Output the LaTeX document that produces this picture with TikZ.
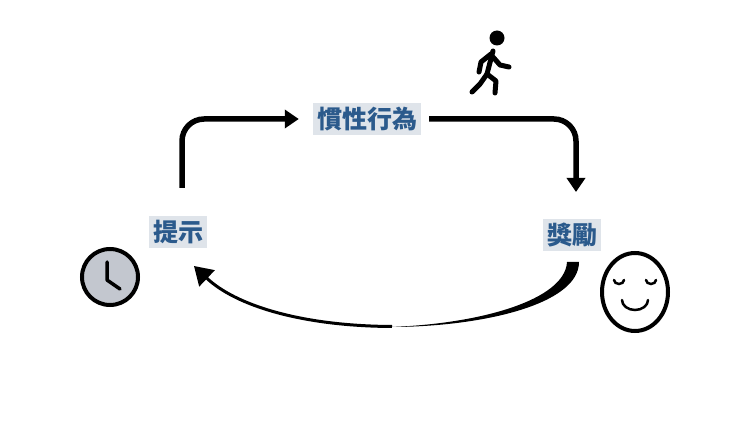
\documentclass[tikz,border=0pt]{standalone}
\usepackage{fontspec}
\newfontfamily\cjk{Noto Sans CJK TC}
\usetikzlibrary{arrows.meta}
\definecolor{lblblue}{HTML}{2B5A8C}
\definecolor{lblback}{HTML}{DFE4EA}
\definecolor{clockgray}{HTML}{C3C7CF}
\tikzset{
  stage/.style={fill=lblback,text=lblblue,inner sep=4pt,font=\cjk\bfseries\fontsize{25}{29}\selectfont},
  loop/.style={line width=5.5pt,rounded corners=22pt,-{Triangle[length=14pt,width=18pt]}},
  figure/.style={line width=5pt,line cap=round,line join=round}
}
\begin{document}
\begin{tikzpicture}[x=1pt,y=-1pt]
  \useasboundingbox (0,0) rectangle (740,433);
  % stages
  \node[stage] (habit) at (367,119) {慣性行為};
  \node[stage] (cue) at (178,232) {提示};
  \node[stage] (reward) at (572,235) {獎勵};
  \coordinate (c1) at (182,188);
  \coordinate (r1) at (576,192);
  \coordinate (r2) at (573,262);
  \coordinate (c2) at (194,266);
  % arrows of the loop
  \draw[loop] (c1) |- ([xshift=-14pt]habit.west);
  \draw[loop] ([xshift=8pt]habit.east) -| (r1);
  \fill (r2) ++(-6,0) -- ++(12,0) .. controls (579,305) and (480,327) .. (390,327)
     .. controls (480,324) and (565,300) .. (567,262) -- cycle;
  \draw[line width=3pt,-{Triangle[length=18pt,width=22pt]}]
     (392,326.5) .. controls (300,326) and (235,305) .. (c2);
  % clock
  \draw[line width=4pt,fill=clockgray] (110,277) circle (28);
  \draw[figure,line width=3.5pt] (107,262) -- (107,280) -- (120,289);
  % smiley
  \draw[line width=4pt] (635,292) ellipse (33 and 39);
  \draw[line width=2.5pt,line cap=round] (614,280) arc (180:0:5 and 4);
  \draw[line width=2.5pt,line cap=round] (646,280) arc (180:0:5 and 4);
  \draw[line width=2.5pt,line cap=round] (622,300) arc (180:0:13 and 10);
  % walker
  \fill (497,38) circle (7.5);
  \draw[figure] (493,51) -- (487,74) -- (480,84) -- (472,92);
  \draw[figure] (487,74) -- (496,81) -- (495,93);
  \draw[figure] (491,54) -- (481,62) -- (479,72);
  \draw[figure] (493,57) -- (500,65) -- (509,67);
\end{tikzpicture}
\end{document}
